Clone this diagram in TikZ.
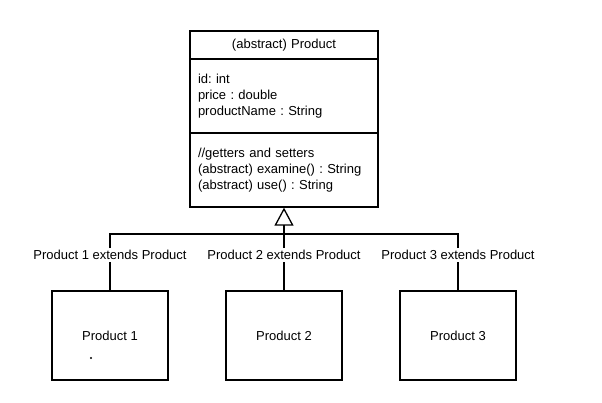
\documentclass[tikz,border=0pt]{standalone}
\usepackage{fontspec}
\setmainfont{Liberation Sans}
\frenchspacing
\usetikzlibrary{arrows.meta}
\begin{document}
\begin{tikzpicture}[x=1pt,y=-1pt,
  every node/.style={font=\fontsize{13}{16}\selectfont},
  umlbox/.style={draw,line width=1.3pt,minimum width=188pt,inner xsep=8pt,inner ysep=0pt,text width=172pt},
  childbox/.style={draw,line width=1.3pt,minimum width=116pt,minimum height=89pt},
  conn/.style={line width=1.3pt},
  extlabel/.style={fill=white,inner sep=2pt}
]
\useasboundingbox (0,0) rectangle (602,403);

% abstract class with three compartments
\node[umlbox,minimum height=28pt,align=center] (title) at (284,45) {(abstract) Product};
\node[umlbox,minimum height=74pt,align=left] (attrs) at (284,96)
  {id: int\\price : double\\productName : String};
\node[umlbox,minimum height=74pt,align=left] (ops) at (284,170)
  {//getters and setters\\(abstract) examine() : String\\(abstract) use() : String};

% concrete subclasses
\node[childbox] (p1) at (110,335.5) {Product 1};
\node[childbox] (p2) at (284,335.5) {Product 2};
\node[childbox] (p3) at (458,335.5) {Product 3};

% relation labels
\node[extlabel] (l1) at (110,255) {Product 1 extends Product};
\node[extlabel] (l2) at (284,255) {Product 2 extends Product};
\node[extlabel] (l3) at (458,255) {Product 3 extends Product};

% inheritance tree
\coordinate (junction) at (284,234);
\draw[conn,-{Triangle[open,length=18pt,width=19pt,line width=1.3pt]}] (junction) -- (ops.south);
\draw[conn] (p1.north) -- (l1.south);
\draw[conn] (p2.north) -- (l2.south);
\draw[conn] (p3.north) -- (l3.south);
\draw[conn] (l1.north) |- (junction);
\draw[conn] (l2.north) -- (junction);
\draw[conn] (l3.north) |- (junction);

% stray mark inside Product 1
\coordinate (mark) at (91,358);
\fill (mark) circle (1.2pt);
\end{tikzpicture}
\end{document}
